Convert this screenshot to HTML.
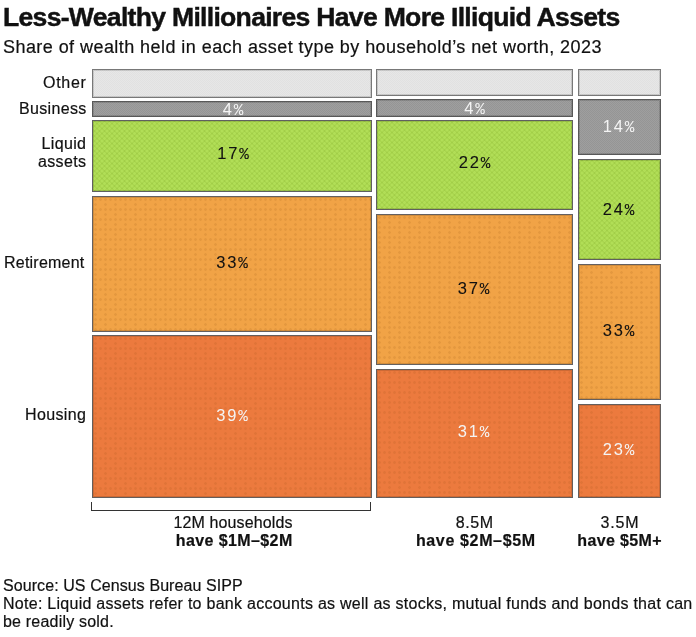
<!DOCTYPE html>
<html><head><meta charset="utf-8">
<style>
html,body{margin:0;padding:0;background:#fff;}
body{width:696px;height:637px;position:relative;overflow:hidden;font-family:"Liberation Sans",Arial,sans-serif;color:#111;-webkit-text-stroke:0.2px currentColor;}
.a{position:absolute;white-space:nowrap;will-change:transform;}
.lab{font-size:16px;line-height:18px;text-align:right;}
.b{position:absolute;box-sizing:border-box;border:1px solid #666;}
.o{background-color:#e6e6e6;border-color:#787878;}
.bu{background-color:#9b9b9b;border-color:#585858;}
.l{background-color:#acdc4c;border-color:#606060;}
.r{background-color:#f1a346;border-color:#646060;}
.h{background-color:#ec7a3e;border-color:#645e5c;}
.b{box-shadow:inset 0 0 0 1px rgba(0,0,0,0.13);}
.o{background-image:repeating-conic-gradient(rgba(0,0,0,0.025) 0 25%, rgba(255,255,255,0.025) 0 50%);background-size:2px 2px;}
.bu{background-image:repeating-conic-gradient(rgba(0,0,0,0.04) 0 25%, rgba(255,255,255,0.04) 0 50%);background-size:2px 2px;}
.l{background-image:repeating-linear-gradient(45deg, rgba(0,0,0,0.03) 0 1.77px, rgba(255,255,255,0.03) 1.77px 3.54px),repeating-linear-gradient(-45deg, rgba(0,0,0,0.03) 0 1.77px, rgba(255,255,255,0.03) 1.77px 3.54px);}
.r,.h{background-image:radial-gradient(circle at 2.5px 2.5px, rgba(120,60,0,0.10) 1.1px, transparent 1.6px),radial-gradient(circle at 2.5px 7.5px, rgba(120,60,0,0.10) 1.1px, transparent 1.6px);background-size:5px 10px,10px 10px;}
.p{position:absolute;will-change:transform;font-size:16px;line-height:18px;text-align:center;white-space:nowrap;}
.w{color:#f4f4f4;-webkit-text-stroke:0;}
.p{font-size:16.5px;-webkit-text-stroke:0.1px currentColor;}
.p.w{-webkit-text-stroke:0;}
.dg{letter-spacing:1.8px;}
.pc{font-family:"Liberation Mono",monospace;font-size:16px;}
.bot{font-size:16px;line-height:18px;text-align:center;}
.foot{font-size:16px;line-height:18px;}
</style></head><body>
<div class="a m" style="left:2.5px;top:2.5px;font-size:26.6px;font-weight:bold;line-height:28px;-webkit-text-stroke:0.45px currentColor;letter-spacing:-0.72px">Less-Wealthy Millionaires Have More Illiquid Assets</div>
<div class="a m" style="left:2.7px;top:36px;font-size:18px;line-height:22px;letter-spacing:0.44px">Share of wealth held in each asset type by household’s net worth, 2023</div>
<div class="a lab m" style="right:609.30px;top:74px;letter-spacing:0.7px">Other</div>
<div class="a lab m" style="right:609.66px;top:100px;letter-spacing:0.34px">Business</div>
<div class="a lab m" style="right:609.66px;top:135px;letter-spacing:0.34px">Liquid<br>assets</div>
<div class="a lab m" style="right:610.97px;top:254px;letter-spacing:0.23px">Retirement</div>
<div class="a lab m" style="right:609.64px;top:406px;letter-spacing:0.36px">Housing</div>
<div class="b o" style="left:92px;width:280px;top:69px;height:29px"></div>
<div class="b bu" style="left:92px;width:280px;top:101px;height:16px"></div>
<div class="b l" style="left:92px;width:280px;top:120px;height:72px"></div>
<div class="b r" style="left:92px;width:280px;top:196px;height:136px"></div>
<div class="b h" style="left:92px;width:280px;top:335px;height:163px"></div>
<div class="b o" style="left:376px;width:197px;top:69px;height:27px"></div>
<div class="b bu" style="left:376px;width:197px;top:99px;height:18px"></div>
<div class="b l" style="left:376px;width:197px;top:120px;height:90px"></div>
<div class="b r" style="left:376px;width:197px;top:214px;height:151px"></div>
<div class="b h" style="left:376px;width:197px;top:369px;height:129px"></div>
<div class="b o" style="left:578px;width:83px;top:69px;height:27px"></div>
<div class="b bu" style="left:578px;width:83px;top:99px;height:56px"></div>
<div class="b l" style="left:578px;width:83px;top:159px;height:101px"></div>
<div class="b r" style="left:578px;width:83px;top:264px;height:136px"></div>
<div class="b h" style="left:578px;width:83px;top:404px;height:94px"></div>
<div class="p w m" style="left:93.2px;width:280px;top:100px"><span class="dg">4</span><span class="pc">%</span></div>
<div class="p m" style="left:93px;width:280px;top:144px"><span class="dg">17</span><span class="pc">%</span></div>
<div class="p m" style="left:92px;width:280px;top:253px"><span class="dg">33</span><span class="pc">%</span></div>
<div class="p w m" style="left:92px;width:280px;top:406px"><span class="dg">39</span><span class="pc">%</span></div>
<div class="p w m" style="left:376px;width:197px;top:98.5px"><span class="dg">4</span><span class="pc">%</span></div>
<div class="p m" style="left:375.5px;width:197px;top:153px"><span class="dg">22</span><span class="pc">%</span></div>
<div class="p m" style="left:375px;width:197px;top:279px"><span class="dg">37</span><span class="pc">%</span></div>
<div class="p w m" style="left:375.2px;width:197px;top:422px"><span class="dg">31</span><span class="pc">%</span></div>
<div class="p w m" style="left:577.2px;width:83px;top:117px"><span class="dg">14</span><span class="pc">%</span></div>
<div class="p m" style="left:577px;width:83px;top:199.5px"><span class="dg">24</span><span class="pc">%</span></div>
<div class="p m" style="left:577px;width:83px;top:321px"><span class="dg">33</span><span class="pc">%</span></div>
<div class="p w m" style="left:577px;width:83px;top:440px"><span class="dg">23</span><span class="pc">%</span></div>
<div class="a" style="left:91px;top:502px;width:280px;height:9px;border:1.5px solid #333;border-top:none;box-sizing:border-box"></div>
<div class="a bot m" style="left:93.3px;width:280px;top:514px;letter-spacing:0.12px;text-indent:0.12px">12M households</div>
<div class="a bot m" style="left:93.5px;width:280px;top:532px;letter-spacing:0.4px;text-indent:0.4px;font-weight:bold">have $1M–$2M</div>
<div class="a bot m" style="left:376px;width:197px;top:514px;letter-spacing:0.6px;text-indent:0.6px">8.5M</div>
<div class="a bot m" style="left:376.5px;width:197px;top:532px;letter-spacing:0.65px;text-indent:0.65px;font-weight:bold">have $2M–$5M</div>
<div class="a bot m" style="left:578px;width:83px;top:514px;letter-spacing:0.8px;text-indent:0.8px">3.5M</div>
<div class="a bot m" style="left:576.5px;width:83px;top:532px;letter-spacing:0.36px;text-indent:0.36px;font-weight:bold">have $5M+</div>
<div class="a foot m" style="left:3px;top:577px;letter-spacing:0.08px">Source: US Census Bureau SIPP</div>
<div class="a foot m" style="left:3px;top:595px;letter-spacing:0.27px">Note: Liquid assets refer to bank accounts as well as stocks, mutual funds and bonds that can</div>
<div class="a foot m" style="left:3px;top:613px;letter-spacing:0.2px">be readily sold.</div>
</body></html>
